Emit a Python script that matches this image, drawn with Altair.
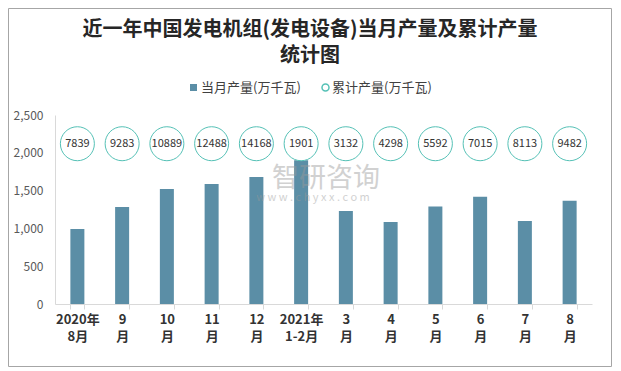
import altair as alt
import pandas as pd

# ---- data ----
month_line1 = ["2020年", "9", "10", "11", "12", "2021年", "3", "4", "5", "6", "7", "8"]
month_line2 = ["8月", "月", "月", "月", "月", "1-2月", "月", "月", "月", "月", "月", "月"]
monthly = [992, 1283, 1521, 1587, 1680, 1901, 1231, 1085, 1290, 1418, 1098, 1366]
cumulative = [7839, 9283, 10889, 12488, 14168, 1901, 3132, 4298, 5592, 7015, 8113, 9482]
series_monthly = "当月产量(万千瓦)"
series_cum = "累计产量(万千瓦)"
y_ticks = [0, 500, 1000, 1500, 2000, 2500]
title_lines = ["近一年中国发电机组(发电设备)当月产量及累计产量", "统计图"]
bubble_level = 2120

cats = [a + "|" + b for a, b in zip(month_line1, month_line2)]
df = pd.DataFrame({
    "month": cats,
    "monthly": monthly,
    "cumulative": cumulative,
    "s1": series_monthly,
    "s2": series_cum,
})

FONT = "Noto Sans CJK SC"
BAR = "#5b8ea6"
TEAL = "#55c1b6"

x = alt.X(
    "month:N", sort=cats, title=None,
    scale=alt.Scale(paddingInner=0.687, paddingOuter=0.3435),
    axis=alt.Axis(
        labelExpr="isValid(datum.value) ? split(datum.value, '|') : ''", labelAngle=0,
        labelFont=FONT, labelFontWeight="bold", labelFontSize=13, labelColor="#333333",
        labelLineHeight=17, domainColor="#d9d9d9", tickColor="#d9d9d9",
        tickSize=5, tickBand="extent", labelPadding=4,
    ),
)
y_scale = alt.Scale(domain=[0, 2500], nice=False)
y_axis = alt.Axis(values=y_ticks, format=",d", grid=False, ticks=False,
                  domainColor="#d9d9d9", labelColor="#595959",
                  labelFont=FONT, labelFontSize=12, labelPadding=12)

base = alt.Chart(df).transform_calculate(level=str(bubble_level))

bars = base.mark_bar().encode(
    x=x,
    y=alt.Y("monthly:Q", scale=y_scale, title=None, axis=y_axis),
    fill=alt.Fill("s1:N", scale=alt.Scale(domain=[series_monthly], range=[BAR]),
                  legend=alt.Legend(title=None, orient="none", legendX=132, legendY=-34,
                                    symbolType="square", symbolSize=49, padding=0,
                                    labelFont=FONT, labelFontSize=13, labelColor="#404040",
                                    labelOffset=1, symbolStrokeWidth=0)),
)

bubbles = base.mark_point(shape="circle", size=1156, filled=False, fill="white",
                          fillOpacity=1, strokeWidth=1, opacity=1).encode(
    x=x,
    y=alt.Y("level:Q", scale=y_scale, title=None, axis=y_axis),
    stroke=alt.Stroke("s2:N", scale=alt.Scale(domain=[series_cum], range=[TEAL]),
                      legend=alt.Legend(title=None, orient="none", legendX=264, legendY=-34,
                                        symbolType="circle", symbolSize=49, padding=0,
                                        symbolFillColor="white", symbolStrokeWidth=1.5,
                                        labelFont=FONT, labelFontSize=13, labelColor="#404040",
                                        labelOffset=0)),
)

bubble_text = base.mark_text(font=FONT, fontSize=11, color="#333333").encode(
    x=x,
    y=alt.Y("level:Q", scale=y_scale, title=None, axis=y_axis),
    text=alt.Text("cumulative:Q", format="d"),
)

title1 = alt.Chart(pd.DataFrame({"t": [title_lines[0]]})).mark_text(
    font=FONT, fontSize=20, fontWeight="bold", color="#262626", align="center", baseline="middle"
).encode(x=alt.value(255), y=alt.value(-85), text="t:N")
title2 = alt.Chart(pd.DataFrame({"t": [title_lines[1]]})).mark_text(
    font=FONT, fontSize=20, fontWeight="bold", color="#262626", align="center", baseline="middle"
).encode(x=alt.value(255), y=alt.value(-59), text="t:N")

wm1 = alt.Chart(pd.DataFrame({"t": ["智研咨询"]})).mark_text(
    font=FONT, fontSize=27, color="#9a9a9a", opacity=0.45, align="center", baseline="middle"
).encode(x=alt.value(271), y=alt.value(64), text="t:N")
wm2 = alt.Chart(pd.DataFrame({"t": ["w w w . c h y x x . c o m"]})).mark_text(
    font=FONT, fontSize=11, color="#9a9a9a", opacity=0.45, align="center", baseline="middle"
).encode(x=alt.value(258), y=alt.value(83), text="t:N")

border = alt.Chart(pd.DataFrame({"a": [0]})).mark_rect(
    fillOpacity=0, stroke="#a6a6a6", strokeWidth=1
).encode(x=alt.value(-46.5), x2=alt.value(556.5), y=alt.value(-106.5), y2=alt.value(251.5))

chart = alt.layer(border, bars, bubbles, bubble_text, wm1, wm2, title1, title2).resolve_legend(
    fill="independent", stroke="independent"
).properties(
    width=537, height=189,
    autosize=alt.AutoSizeParams(type="none"),
    padding={"left": 47, "top": 107, "right": 21, "bottom": 63},
    background="white",
).configure_view(stroke=None)

chart.save("out.html", embed_options={"renderer": "svg", "actions": False})
